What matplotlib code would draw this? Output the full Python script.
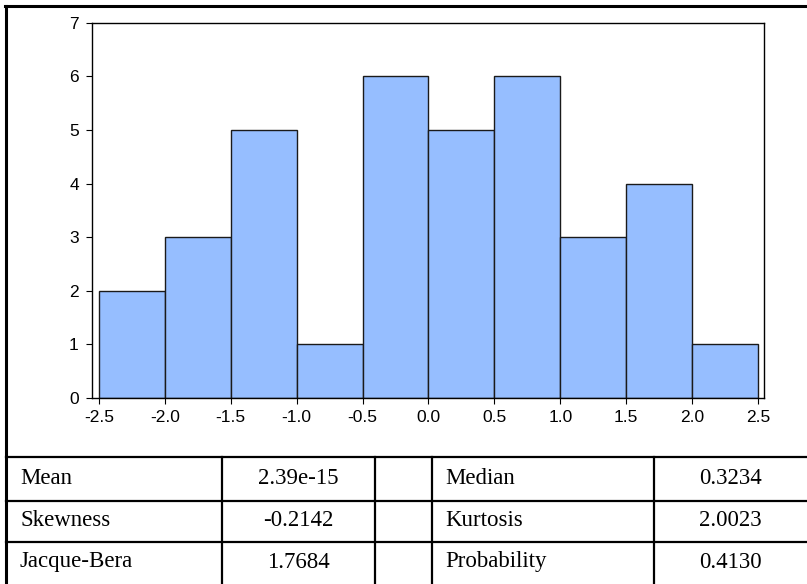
import matplotlib.pyplot as plt
from matplotlib.lines import Line2D

# histogram data
bin_edges = [-2.5, -2.0, -1.5, -1.0, -0.5, 0.0, 0.5, 1.0, 1.5, 2.0, 2.5]
counts = [2, 3, 5, 1, 6, 5, 6, 3, 4, 1]
x_ticks = [-2.5, -2.0, -1.5, -1.0, -0.5, 0.0, 0.5, 1.0, 1.5, 2.0, 2.5]
y_ticks = [0, 1, 2, 3, 4, 5, 6, 7]

# summary statistics table
stat_names_left = ["Mean", "Skewness", "Jacque-Bera"]
stat_vals_left = ["2.39e-15", "-0.2142", "1.7684"]
stat_names_right = ["Median", "Kurtosis", "Probability"]
stat_vals_right = ["0.3234", "2.0023", "0.4130"]

W, H = 807, 584
fig = plt.figure(figsize=(W / 100, H / 100), dpi=100)


def fx(px):
    return px / W


def fy(py):
    return 1 - py / H


ax = fig.add_axes([fx(92), fy(398), fx(764) - fx(92), fy(22.7) - fy(398)])
widths = [bin_edges[i + 1] - bin_edges[i] for i in range(len(counts))]
ax.bar(bin_edges[:-1], counts, width=widths, align="edge",
       color="#96BEFF", edgecolor="#1a1a1a", linewidth=1.0)
ax.set_xlim(-2.553, 2.546)
ax.set_ylim(0, 7)
ax.set_xticks(x_ticks)
ax.set_xticklabels([f"{v:.1f}" for v in x_ticks])
ax.set_yticks(y_ticks)
for s in ax.spines.values():
    s.set_linewidth(1.0)
    s.set_color("black")
ax.tick_params(direction="out", length=4.5, width=0.8, labelsize=12.5)
ax.tick_params(axis="y", pad=5)
ax.tick_params(axis="x", pad=4)
for lab in ax.get_xticklabels() + ax.get_yticklabels():
    lab.set_family("Liberation Sans")

# outer frame
fig.add_artist(Line2D([fx(6), fx(6)], [fy(6), fy(584)], color="black", lw=2.2))
fig.add_artist(Line2D([fx(5), fx(807)], [fy(6), fy(6)], color="black", lw=2.2))

# table grid
row_lines = [457, 500.5, 541.5]
for y in row_lines:
    fig.add_artist(Line2D([fx(6), fx(807)], [fy(y), fy(y)], color="black", lw=1.6))
for x in [222, 375, 432, 654]:
    fig.add_artist(Line2D([fx(x), fx(x)], [fy(457), fy(584)], color="black", lw=1.6))

row_centers = [478, 520, 562]
tkw = dict(family="Liberation Serif", fontsize=16.5, va="center")
for i, yc in enumerate(row_centers):
    fig.text(fx(20), fy(yc), stat_names_left[i], ha="left", **tkw)
    fig.text(fx(298.5), fy(yc), stat_vals_left[i], ha="center", **tkw)
    fig.text(fx(445), fy(yc), stat_names_right[i], ha="left", **tkw)
    fig.text(fx(730.5), fy(yc), stat_vals_right[i], ha="center", **tkw)

fig.savefig("out.png", dpi=100)
